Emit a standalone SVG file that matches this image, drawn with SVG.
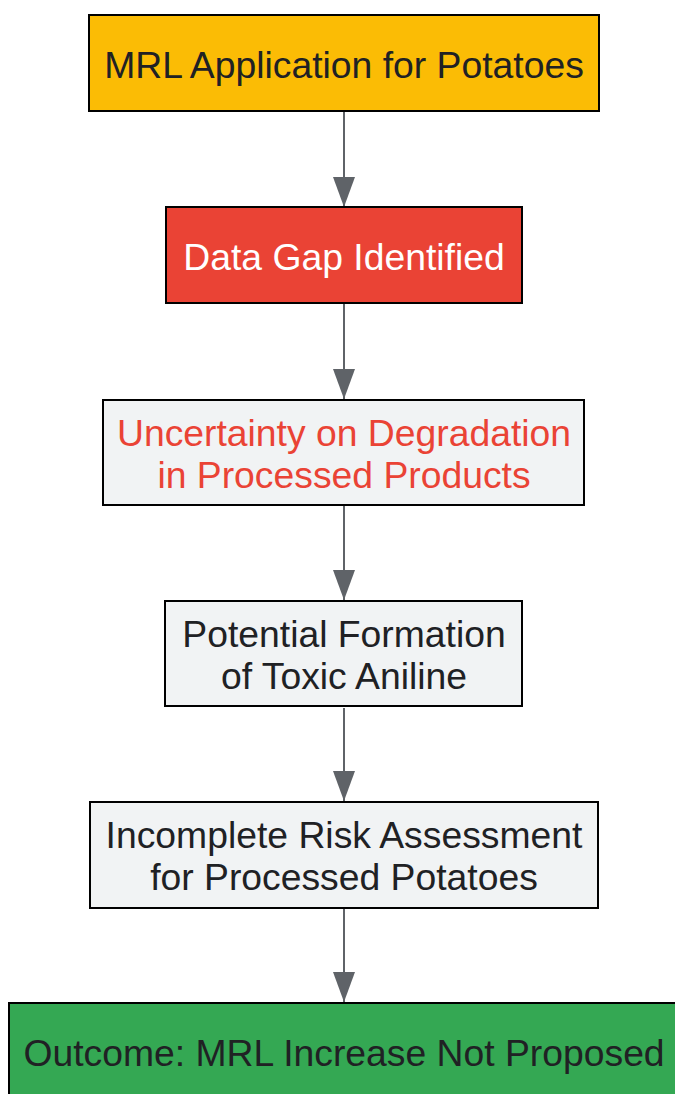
<svg xmlns="http://www.w3.org/2000/svg" width="675" height="1094" viewBox="0 0 675 1094">
<style>
  .box { stroke: #000000; stroke-width: 2; }
  .lbl { font-family: "Liberation Sans", Arial, sans-serif; font-size: 37.3px; text-anchor: middle; fill: #202124; }
  .edge { stroke: #5F6368; stroke-width: 2; fill: none; marker-end: url(#arrow); }
</style>
<defs>
  <marker id="arrow" markerUnits="userSpaceOnUse" markerWidth="30" markerHeight="22" refX="30" refY="11" orient="auto">
    <path d="M0,0 L30,11 L0,22 Z" fill="#5F6368"/>
  </marker>
</defs>
<rect width="675" height="1094" fill="#ffffff"/>
<g id="connectors">
  <line class="edge" x1="344" y1="112" x2="344" y2="207"/>
  <line class="edge" x1="344" y1="304" x2="344" y2="399"/>
  <line class="edge" x1="344" y1="506" x2="344" y2="600"/>
  <line class="edge" x1="344" y1="708" x2="344" y2="801"/>
  <line class="edge" x1="344" y1="909" x2="344" y2="1002"/>
</g>
<g id="node1">
  <rect class="box" x="89" y="15" width="510" height="96" fill="#FBBC05"/>
  <text class="lbl" x="344" y="78">MRL Application for Potatoes</text>
</g>
<g id="node2">
  <rect class="box" x="166" y="207" width="356" height="96" fill="#EA4335"/>
  <text class="lbl" x="344" y="270" style="fill:#FFFFFF">Data Gap Identified</text>
</g>
<g id="node3">
  <rect class="box" x="103" y="400" width="481" height="105" fill="#F1F3F4"/>
  <text class="lbl" x="344" y="446" style="fill:#EA4335">Uncertainty on Degradation</text>
  <text class="lbl" x="344" y="488" style="fill:#EA4335">in Processed Products</text>
</g>
<g id="node4">
  <rect class="box" x="165" y="601" width="357" height="105" fill="#F1F3F4"/>
  <text class="lbl" x="344" y="647">Potential Formation</text>
  <text class="lbl" x="344" y="689">of Toxic Aniline</text>
</g>
<g id="node5">
  <rect class="box" x="90" y="802" width="508" height="106" fill="#F1F3F4"/>
  <text class="lbl" x="344" y="848">Incomplete Risk Assessment</text>
  <text class="lbl" x="344" y="890">for Processed Potatoes</text>
</g>
<g id="node6">
  <rect class="box" x="9" y="1003" width="680" height="100" fill="#34A853"/>
  <text class="lbl" x="344" y="1066">Outcome: MRL Increase Not Proposed</text>
</g>
</svg>
